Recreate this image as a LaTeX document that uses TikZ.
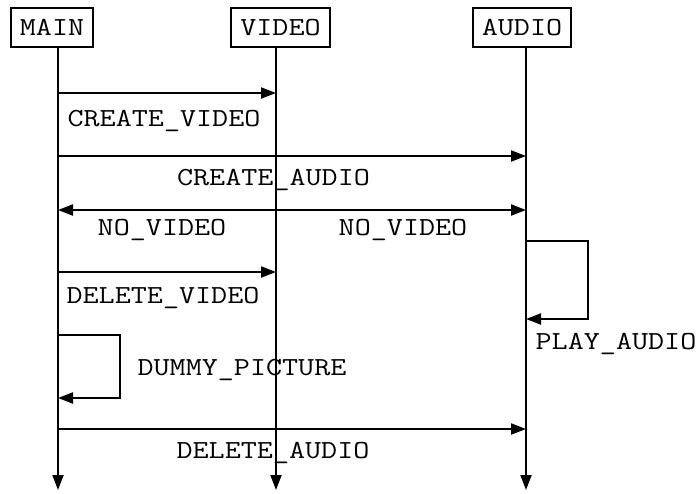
\documentclass[tikz,border=0pt]{standalone}
\usepackage{fontspec}
\setmonofont{Latin Modern Mono}[FakeStretch=1.2]
\usetikzlibrary{arrows.meta}
\tikzset{
  >={Triangle[length=15pt,width=11pt]},
  every node/.style={font=\ttfamily\fontsize{26}{26}\selectfont},
  head/.style={draw, line width=2pt, inner xsep=9pt, minimum height=39pt},
  msg/.style={anchor=base, inner sep=0pt},
}

\begin{document}
\begin{tikzpicture}[x=1pt, y=-1pt, line width=2pt]
    \useasboundingbox (0,0) rectangle (699,493);
    \node[head] (main)  at (52,27.5)  {MAIN};
    \node[head] (video) at (280.5,27.5) {VIDEO};
    \node[head] (audio) at (522,27.5) {AUDIO};

    % lifelines
    \foreach \l/\x in {main/58, video/276, audio/526} {
      \coordinate (\l-top) at (\x,47);
      \coordinate (\l-end) at (\x,490);
      \foreach \n/\y in {1/93, 2/156, 3/210, 4/272, 5/335, 6/398, 7/429, 8/241, 9/319}
        \coordinate (\l\n) at (\x,\y);
    }
    \coordinate (loopA) at (588,241);
    \coordinate (loopB) at (588,319);
    \coordinate (loopC) at (120,335);
    \coordinate (loopD) at (120,398);

    \path[->]
      (main-top)  edge (main-end)
      (video-top) edge (video-end)
      (audio-top) edge (audio-end)
      (main1) edge (video1)
      (main2) edge (audio2)
      (video3) edge (main3)
      (video3) edge (audio3)
      (main4) edge (video4)
      (main7) edge (audio7);
    \draw[->] (audio8) -- (loopA) -- (loopB) -- (audio9);
    \draw[->] (main5) -- (loopC) -- (loopD) -- (main6);

    \node[msg] (l1) at (164,126.5) {CREATE\_VIDEO};
    \node[msg] (l2) at (273.5,185) {CREATE\_AUDIO};
    \node[msg] (l3) at (162,235)   {NO\_VIDEO};
    \node[msg] (l4) at (403,235)   {NO\_VIDEO};
    \node[msg] (l5) at (163,303)   {DELETE\_VIDEO};
    \node[msg] (l6) at (616,349)   {PLAY\_AUDIO};
    \node[msg] (l7) at (242,375)   {DUMMY\_PICTURE};
    \node[msg] (l8) at (273,458)   {DELETE\_AUDIO};
\end{tikzpicture}
\end{document}
